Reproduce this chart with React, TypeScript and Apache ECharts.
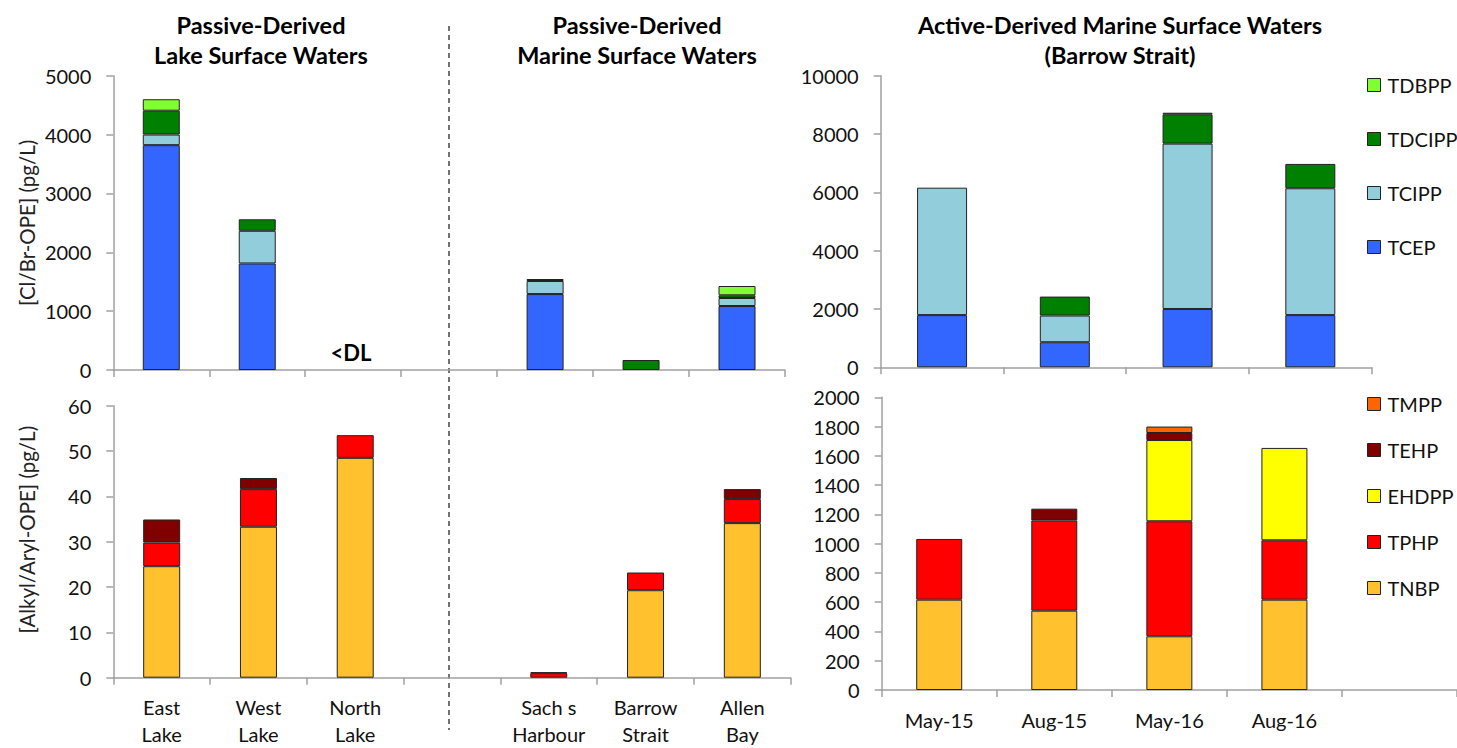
import React, { useEffect, useRef } from 'react';
import * as echarts from 'echarts';

// ---------- data ----------
const leftCategories = ['East\nLake', 'West\nLake', 'North\nLake', '', 'Sach s\nHarbour', 'Barrow\nStrait', 'Allen\nBay'];
const rightTopCategories = ['May-15', 'Aug-15', 'May-16', 'Aug-16'];
const rightBottomCategories = ['May-15', 'Aug-15', 'May-16', 'Aug-16', ''];

// Passive-derived, Cl/Br-OPE (pg/L)
const passiveTCEP = [3820, 1810, null, null, 1290, null, 1087];
const passiveTCIPP = [180, 555, null, null, 222, null, 136];
const passiveTDCIPP = [405, 195, null, null, 34, 170, 46];
const passiveTDBPP = [195, null, null, null, null, null, 158];

// Passive-derived, Alkyl/Aryl-OPE (pg/L)
const passiveTNBP = [24.6, 33.3, 48.5, null, null, 19.3, 34.1];
const passiveTPHP = [5.2, 8.3, 5.0, null, 1.0, 3.9, 5.3];
const passiveTEHP = [5.1, 2.45, null, null, 0.2, null, 2.2];

// Active-derived, Cl/Br-OPE (pg/L)
const activeTCEP = [1790, 860, 2000, 1790];
const activeTCIPP = [4370, 915, 5670, 4350];
const activeTDCIPP = [null, 650, 1005, 835];
const activeTDBPP = [null, null, 55, null];

// Active-derived, Alkyl/Aryl-OPE (pg/L)
const activeTNBP = [617, 542, 367, 617, null];
const activeTPHP = [415, 617, 786, 406, null];
const activeEHDPP = [null, null, 555, 631, null];
const activeTEHP = [null, 80, 48, null, null];
const activeTMPP = [null, null, 44, null, null];

const topLegend = ['TDBPP', 'TDCIPP', 'TCIPP', 'TCEP'];
const bottomLegend = ['TMPP', 'TEHP', 'EHDPP', 'TPHP', 'TNBP'];

// ---------- styles ----------
const COLORS: Record<string, string> = {
  TCEP: '#3366FF',
  TCIPP: '#92CDDC',
  TDCIPP: '#008000',
  TDBPP: '#80FF33',
  TNBP: '#FFC12E',
  TPHP: '#FF0000',
  EHDPP: '#FFFF00',
  TEHP: '#800000',
  TMPP: '#FF6600',
};
const FONT = 'Lato, "Open Sans", sans-serif';
const AXIS_COLOR = '#a0a0a0';

function bar(name: string, data: (number | null)[], idx: number, stack: string, width: number) {
  return {
    type: 'bar',
    name,
    data,
    xAxisIndex: idx,
    yAxisIndex: idx,
    stack,
    barWidth: width,
    itemStyle: { color: COLORS[name], borderColor: '#222', borderWidth: 1 },
    emphasis: { disabled: true },
  };
}

function xAxis(gridIndex: number, data: string[], showLabel: boolean) {
  return {
    type: 'category',
    gridIndex,
    data,
    axisLine: { show: true, lineStyle: { color: AXIS_COLOR, width: 1.5 } },
    axisTick: { show: true, length: 7, lineStyle: { color: AXIS_COLOR, width: 1.5 } },
    axisLabel: {
      show: showLabel,
      interval: 0,
      fontSize: 20,
      lineHeight: 27,
      margin: 16,
      color: '#111',
      fontFamily: FONT,
    },
  };
}

function yAxis(gridIndex: number, max: number, interval: number, name?: string, pad?: number[]) {
  return {
    type: 'value',
    gridIndex,
    min: 0,
    max,
    interval,
    name: name || '',
    nameLocation: 'middle',
    nameGap: 76,
    nameTextStyle: { fontSize: 20.5, color: '#222', fontFamily: FONT, padding: pad || 0 },
    axisLine: { show: true, lineStyle: { color: AXIS_COLOR, width: 1.5 } },
    axisTick: { show: true, length: 7, lineStyle: { color: AXIS_COLOR, width: 1.5 } },
    splitLine: { show: false },
    axisLabel: {
      fontSize: 20,
      color: '#111',
      fontFamily: FONT,
      margin: 22,
      formatter: (v: number) => String(v),
    },
  };
}

const titleStyle = (text: string) => ({
  text,
  textAlign: 'center',
  textVerticalAlign: 'middle',
  font: 'bold 23.5px ' + FONT,
  lineHeight: 30,
  fill: '#000',
});

const option = {
  animation: false,
  backgroundColor: '#ffffff',
  textStyle: { fontFamily: FONT },
  grid: [
    { left: 113.3, top: 75.7, width: 671.7, height: 294.3 },
    { left: 113.3, top: 405.7, width: 677.4, height: 272 },
    { left: 880.7, top: 75.7, width: 491, height: 291.6 },
    { left: 881.7, top: 397.3, width: 578, height: 292.7 },
  ],
  xAxis: [
    xAxis(0, leftCategories, false),
    xAxis(1, leftCategories, true),
    xAxis(2, rightTopCategories, false),
    xAxis(3, rightBottomCategories, true),
  ],
  yAxis: [
    yAxis(0, 5000, 1000, '[Cl/Br-OPE] (pg/L)'),
    yAxis(1, 60, 10, '[Alkyl/Aryl-OPE] (pg/L)', [0, 0, 0, 24]),
    yAxis(2, 10000, 2000),
    yAxis(3, 2000, 200),
  ],
  legend: [
    {
      data: topLegend,
      orient: 'vertical',
      left: 1367,
      top: 74,
      padding: 0,
      itemWidth: 13,
      itemHeight: 13,
      itemGap: 32,
      selectedMode: false,
      icon: 'rect',
      itemStyle: { borderColor: '#222', borderWidth: 1 },
      textStyle: { fontSize: 20, lineHeight: 22, color: '#111', fontFamily: FONT, padding: [0, 0, 0, 2] },
    },
    {
      data: bottomLegend,
      orient: 'vertical',
      left: 1367,
      top: 393,
      padding: 0,
      itemWidth: 13,
      itemHeight: 13,
      itemGap: 24,
      selectedMode: false,
      icon: 'rect',
      itemStyle: { borderColor: '#222', borderWidth: 1 },
      textStyle: { fontSize: 20, lineHeight: 22, color: '#111', fontFamily: FONT, padding: [0, 0, 0, 2] },
    },
  ],
  series: [
    bar('TCEP', passiveTCEP, 0, 'a', 37),
    bar('TCIPP', passiveTCIPP, 0, 'a', 37),
    bar('TDCIPP', passiveTDCIPP, 0, 'a', 37),
    bar('TDBPP', passiveTDBPP, 0, 'a', 37),

    bar('TNBP', passiveTNBP, 1, 'b', 37),
    bar('TPHP', passiveTPHP, 1, 'b', 37),
    bar('TEHP', passiveTEHP, 1, 'b', 37),

    bar('TCEP', activeTCEP, 2, 'c', 50),
    bar('TCIPP', activeTCIPP, 2, 'c', 50),
    bar('TDCIPP', activeTDCIPP, 2, 'c', 50),
    bar('TDBPP', activeTDBPP, 2, 'c', 50),

    bar('TNBP', activeTNBP, 3, 'd', 46),
    bar('TPHP', activeTPHP, 3, 'd', 46),
    bar('EHDPP', activeEHDPP, 3, 'd', 46),
    bar('TEHP', activeTEHP, 3, 'd', 46),
    bar('TMPP', activeTMPP, 3, 'd', 46),
  ],
  graphic: [
    { type: 'text', x: 261, y: 40, style: titleStyle('Passive-Derived\nLake Surface Waters') },
    { type: 'text', x: 637, y: 40, style: titleStyle('Passive-Derived\nMarine Surface Waters') },
    { type: 'text', x: 1120, y: 40, style: titleStyle('Active-Derived Marine Surface Waters\n(Barrow Strait)') },
    {
      type: 'text',
      x: 351,
      y: 352,
      style: {
        text: '<DL',
        textAlign: 'center',
        textVerticalAlign: 'middle',
        font: 'bold 22px ' + FONT,
        fill: '#000',
      },
    },
    {
      type: 'line',
      shape: { x1: 449, y1: 26, x2: 449, y2: 730 },
      style: { stroke: '#444', lineWidth: 1.5, lineDash: [5, 4] },
    },
  ],
};

export default function App() {
  const ref = useRef<HTMLDivElement>(null);
  useEffect(() => {
    const chart = echarts.init(ref.current as HTMLDivElement, null, { renderer: 'svg' });
    chart.setOption(option as any);
    return () => chart.dispose();
  }, []);
  return (
    <div
      ref={ref}
      style={{ position: 'fixed', left: 0, top: 0, width: 1457, height: 748, background: '#ffffff' }}
    />
  );
}
